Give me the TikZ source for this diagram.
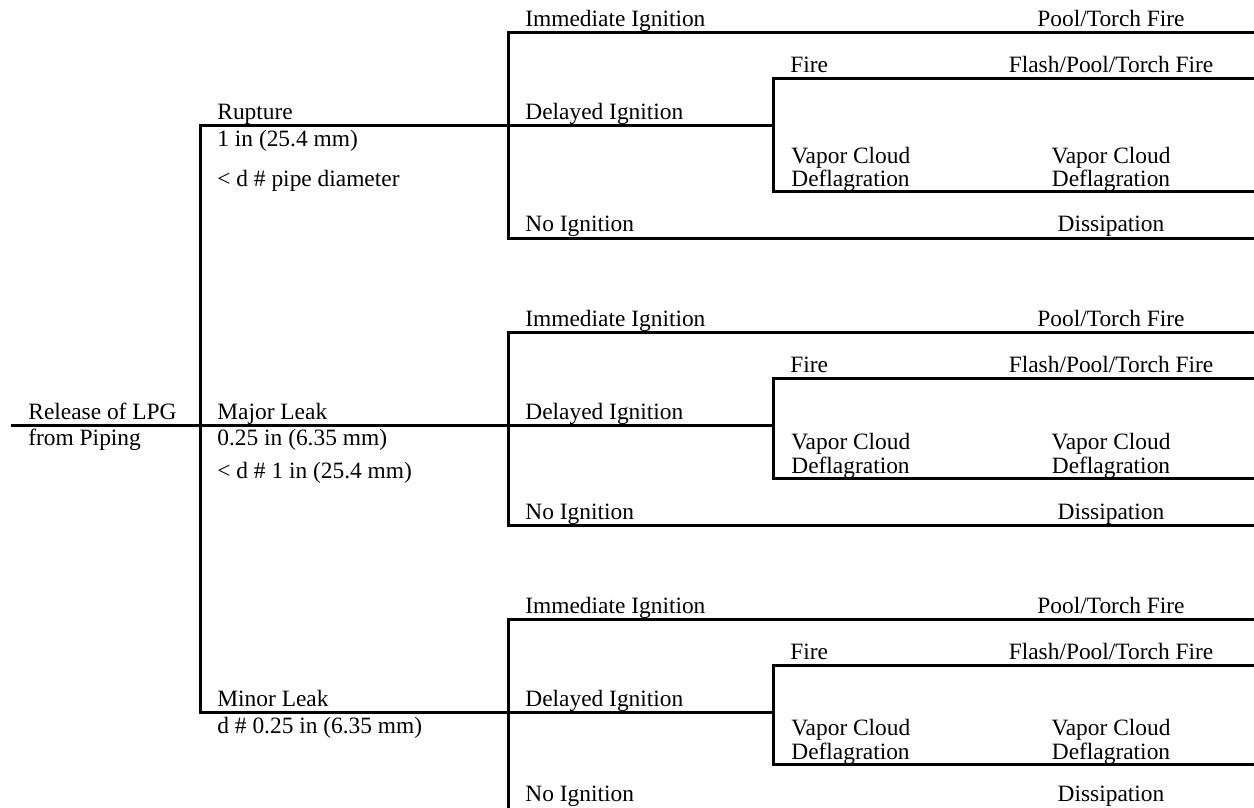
\documentclass[tikz,border=0pt]{standalone}
\usepackage{fontspec}
\setmainfont{Liberation Serif}
\usetikzlibrary{positioning}

\begin{document}
\begin{tikzpicture}[x=0.5pt,y=-0.5pt,
  branch/.style={line width=1.5pt,line cap=rect},
  lab/.style={anchor=base west,inner sep=0pt,font=\fontsize{11.7}{12}\selectfont},
  res/.style={anchor=base,inner sep=0pt,font=\fontsize{11.7}{12}\selectfont,align=center}]
\useasboundingbox (0,0) rectangle (1254,808);
\clip (0,0) rectangle (1254,808);
% root and release size
\coordinate (root) at (12,425);
\coordinate (split) at (200,425);
\coordinate (rup) at (200,126);
\coordinate (maj) at (200,425);
\coordinate (min) at (200,712);
\node[lab] (relA) at (28,419) {Release of LPG};
\node[lab] (relB) at (28,445) {from Piping};
\node[lab] (rupA) at (217,120) {Rupture};
\node[lab] (rupB) at (217,147) {1 in (25.4 mm)};
\node[lab] (rupC) at (217,186) {< d \# pipe diameter};
\node[lab] (majA) at (217,419) {Major Leak};
\node[lab] (majB) at (217,445) {0.25 in (6.35 mm)};
\node[lab] (majC) at (217,478) {< d \# 1 in (25.4 mm)};
\node[lab] (minA) at (217,706) {Minor Leak};
\node[lab] (minB) at (217,733) {d \# 0.25 in (6.35 mm)};
% ignition branches, one block per release size
\foreach \g/\yi/\yf/\yd/\yv/\yn/\tn in {a/33/79/126/192/238/232,b/332/378/425/478/525/519,c/619/665/712/764/812/801}{
  \coordinate (\g-imm) at (508,\yi);
  \coordinate (\g-del) at (508,\yd);
  \coordinate (\g-no) at (508,\yn);
  \coordinate (\g-join) at (773,\yd);
  \coordinate (\g-fire) at (773,\yf);
  \coordinate (\g-vc) at (773,\yv);
  \coordinate (\g-immE) at (1254,\yi);
  \coordinate (\g-fireE) at (1254,\yf);
  \coordinate (\g-vcE) at (1254,\yv);
  \coordinate (\g-noE) at (1254,\yn);
  \draw[branch] (\g-immE) -- (\g-imm) -- (\g-no) -- (\g-noE);
  \draw[branch] (\g-del) -- (\g-join);
  \draw[branch] (\g-fireE) -- (\g-fire) -- (\g-vc) -- (\g-vcE);
  \node[lab] (\g-immT) at (525,\yi-6) {Immediate Ignition};
  \node[lab] (\g-delT) at (525,\yd-6) {Delayed Ignition};
  \node[lab] (\g-noT) at (525,\tn) {No Ignition};
  \node[lab] (\g-fireT) at (790,\yf-6) {Fire};
  \node[lab,align=left] (\g-vcT) at (791,\yv-5) {Vapor Cloud\\Deflagration};
  \node[res] (\g-immR) at (1111,\yi-6) {Pool/Torch Fire};
  \node[res] (\g-fireR) at (1111,\yf-6) {Flash/Pool/Torch Fire};
  \node[res] (\g-vcR) at (1111,\yv-5) {Vapor Cloud\\Deflagration};
  \node[res] (\g-noR) at (1111,\tn) {Dissipation};
}
\draw[branch] (root) -- (split);
\draw[branch] (rup) -- (min);
\draw[branch] (rup) -- (a-del);
\draw[branch] (maj) -- (b-del);
\draw[branch] (min) -- (c-del);
\end{tikzpicture}
\end{document}
